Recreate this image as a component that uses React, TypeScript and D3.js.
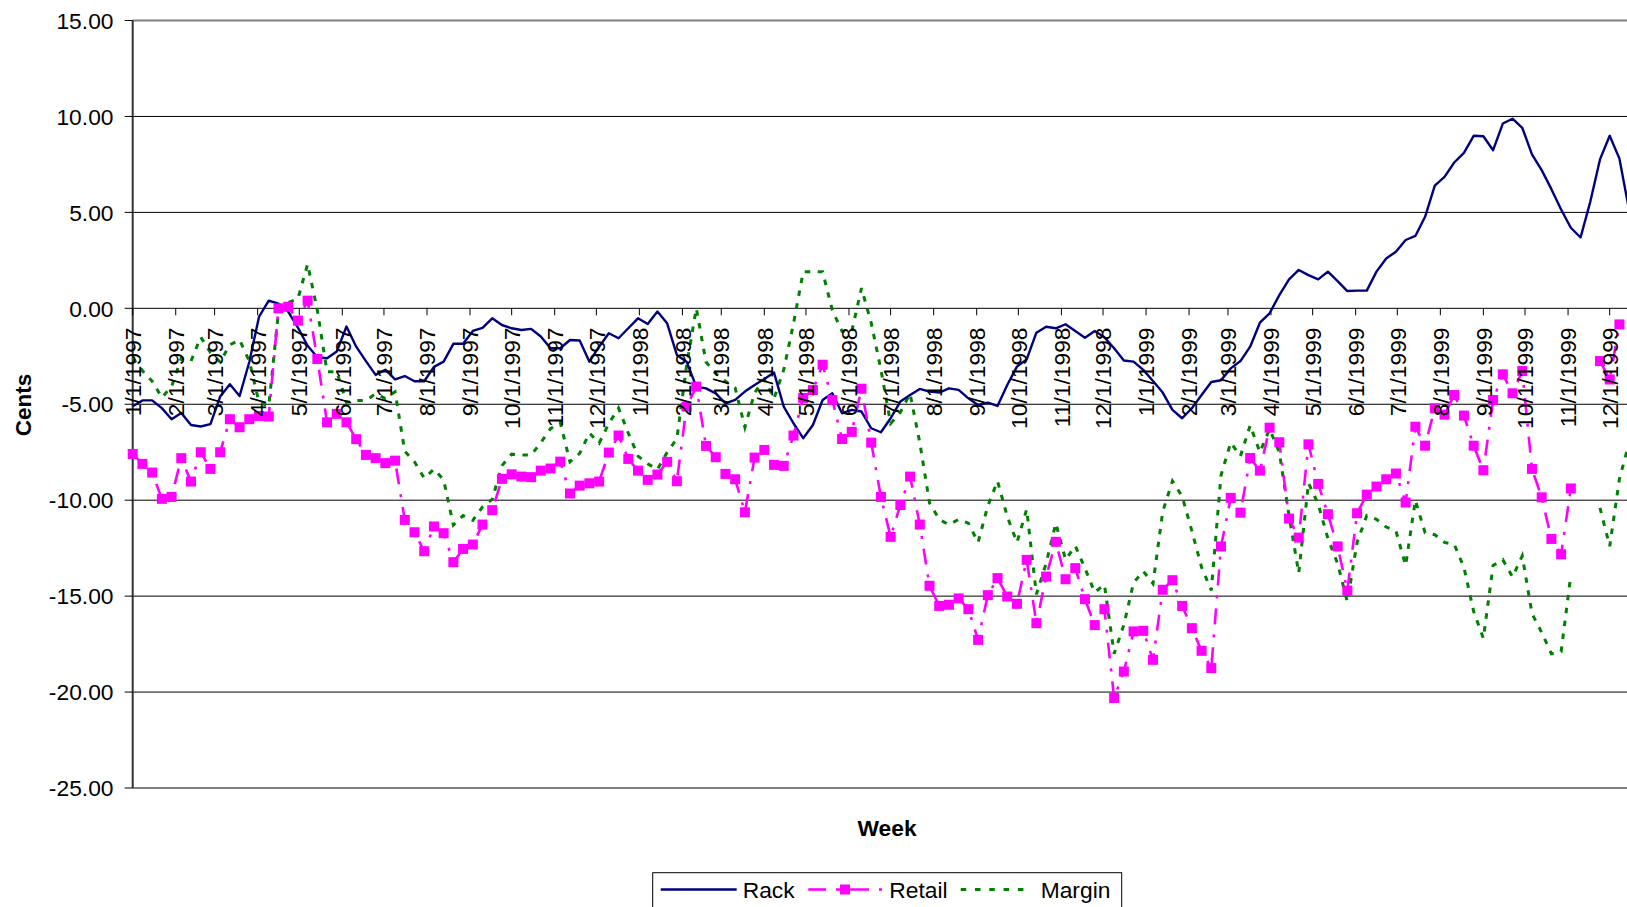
import React from 'react';
import * as d3 from 'd3';

const START = Date.UTC(1997, 0, 1);
const END_TICK = Date.UTC(1999, 11, 1);

const rack: (number | null)[] = [
  -5.1, -4.8, -4.8, -5.2, -5.78, -5.45, -6.08, -6.16, -6.04, -4.6,
  -3.96, -4.57, -2.8, -0.44, 0.4, 0.24, -0.17, -1.0, -1.95, -2.55,
  -2.6, -2.25, -0.95, -2.0, -2.75, -3.47, -3.2, -3.7, -3.53, -3.8,
  -3.8, -3.05, -2.78, -1.85, -1.85, -1.18, -1.02, -0.52, -0.87, -1.04,
  -1.13, -1.07, -1.47, -2.08, -2.08, -1.65, -1.68, -2.78, -2.0, -1.3,
  -1.56, -1.04, -0.52, -0.82, -0.17, -0.78, -2.43, -2.78, -4.08, -4.17,
  -4.43, -4.95, -4.77, -4.34, -4.0, -3.68, -3.35, -5.12, -5.99, -6.77,
  -6.08, -4.78, -4.43, -5.47, -5.29, -5.38, -6.25, -6.46, -5.73, -4.86,
  -4.52, -4.2, -4.34, -4.39, -4.17, -4.25, -4.69, -5.04, -4.92, -5.09,
  -4.0, -3.04, -2.66, -1.27, -0.96, -1.04, -0.83, -1.18, -1.53, -1.18,
  -1.51, -2.08, -2.72, -2.78, -3.21, -3.79, -4.39, -5.29, -5.73, -5.21,
  -4.52, -3.84, -3.75, -3.13, -2.75, -2.0, -0.75, -0.26, 0.69, 1.51,
  2.0, 1.73, 1.51, 1.91, 1.42, 0.9, 0.92, 0.92, 1.91, 2.6,
  2.95, 3.56, 3.77, 4.77, 6.39, 6.85, 7.6, 8.1, 8.99, 8.97,
  8.24, 9.63, 9.88, 9.41, 8.02, 7.2, 6.21, 5.15, 4.2, 3.69,
  5.55, 7.76, 8.99, 7.8, 5.1,
];

const retail: (number | null)[] = [
  -7.59, -8.11, -8.56, -9.93, -9.83, -7.81, -9.03, -7.5, -8.37, -7.5,
  -5.78, -6.2, -5.78, -5.61, -5.64, 0.0, 0.08, -0.64, 0.4, -2.64,
  -5.94, -5.5, -5.94, -6.82, -7.64, -7.81, -8.07, -7.94, -11.03, -11.67,
  -12.66, -11.37, -11.72, -13.23, -12.54, -12.31, -11.27, -10.52, -8.89, -8.65,
  -8.77, -8.8, -8.46, -8.35, -7.99, -9.65, -9.24, -9.12, -9.03, -7.52,
  -6.63, -7.85, -8.46, -8.94, -8.66, -8.0, -9.01, -5.12, -4.08, -7.17,
  -7.76, -8.63, -8.91, -10.63, -7.78, -7.38, -8.16, -8.21, -6.63, -4.67,
  -4.26, -2.94, -4.78, -6.81, -6.44, -4.19, -7.0, -9.83, -11.91, -10.25,
  -8.77, -11.27, -14.46, -15.51, -15.45, -15.12, -15.68, -17.28, -14.95, -14.06,
  -15.02, -15.4, -13.11, -16.41, -13.98, -12.17, -14.12, -13.54, -15.16, -16.51,
  -15.68, -20.31, -18.93, -16.84, -16.81, -18.32, -14.67, -14.17, -15.51, -16.67,
  -17.85, -18.75, -12.41, -9.88, -10.65, -7.8, -8.46, -6.22, -6.98, -10.96,
  -11.95, -7.09, -9.15, -10.73, -12.41, -14.71, -10.68, -9.71, -9.29, -8.91,
  -8.61, -10.12, -6.17, -7.16, -5.21, -5.54, -4.52, -5.59, -7.16, -8.44,
  -4.78, -3.44, -4.43, -3.27, -8.37, -9.85, -12.02, -12.82, -9.39, null,
  null, -2.75, -3.71, -0.84, null,
];

const margin: (number | null)[] = [
  -2.6, -3.25, -3.8, -4.65, -4.08, -2.6, -2.75, -1.5, -2.3, -2.8,
  -1.9, -1.65, -2.75, -4.9, -5.1, -0.2, 0.3, 0.5, 2.3, -0.1,
  -3.3, -3.3, -4.9, -4.8, -4.8, -4.45, -4.7, -4.35, -7.45, -8.0,
  -8.85, -8.38, -8.94, -11.3, -10.8, -11.05, -10.35, -9.95, -8.2, -7.6,
  -7.64, -7.65, -7.0, -6.27, -5.95, -8.0, -7.56, -6.5, -7.03, -6.0,
  -5.2, -6.5, -7.7, -8.1, -8.4, -7.5, -6.8, -3.0, 0.0, -2.8,
  -3.4, -3.8, -4.15, -6.2, -4.4, -3.7, -4.7, -3.2, -0.8, 1.9,
  1.9, 1.9, -0.1, -1.2, -1.2, 1.05, -0.76, -3.2, -6.0, -5.42,
  -4.45, -7.0, -10.14, -11.0, -11.28, -11.0, -11.2, -12.2, -10.3, -9.0,
  -10.85, -12.2, -10.48, -14.9, -13.3, -11.2, -13.1, -12.38, -13.55, -14.8,
  -14.4, -18.0, -16.5, -14.3, -13.7, -14.35, -10.6, -9.0, -9.8, -11.6,
  -13.5, -14.7, -8.7, -7.0, -7.7, -6.1, -7.5, -6.3, -7.5, -10.8,
  -13.8, -9.1, -10.2, -12.0, -13.3, -15.3, -12.2, -10.8, -11.0, -11.4,
  -11.6, -13.4, -10.0, -11.7, -11.8, -12.2, -12.3, -13.5, -15.8, -17.2,
  -13.4, -13.1, -14.0, -12.9, -15.9, -16.9, -18.0, -17.9, -13.9, null,
  null, -10.4, -12.4, -8.9, -7.0,
];

const yTicks = [15, 10, 5, 0, -5, -10, -15, -20, -25];
const seriesNames = ['Rack', 'Retail', 'Margin'];
const FONT = '"Liberation Sans", Arial, sans-serif';

export default function App() {
  const W = 1627;
  const H = 907;
  const dates = rack.map((_, i) => new Date(START + i * 7 * 86400000));
  const x = d3.scaleUtc().domain([new Date(START), new Date(END_TICK)]).range([132.7, 1609.7]);
  const y = d3.scaleLinear().domain([-25, 15]).range([788, 20.5]);
  const monthTicks = d3
    .utcMonth.range(new Date(START), new Date(Date.UTC(2000, 1, 1)))
    .filter((d) => x(d) < W - 10);
  const fmt = d3.utcFormat('%-m/%-d/%Y');

  const mkLine = (arr: (number | null)[]) =>
    d3
      .line<number | null>()
      .defined((d) => d != null)
      .x((_, i) => x(dates[i]))
      .y((d) => y(d as number))(arr) || '';

  const x0 = x(new Date(START));
  const y0 = y(0);
  const LY = 889.5;

  return (
    <svg
      width={W}
      height={H}
      style={{ position: 'absolute', left: 0, top: 0, display: 'block', background: '#fff' }}
      fontFamily={FONT}
    >
      <rect x={0} y={0} width={W} height={H} fill="#fff" />
      {/* gridlines */}
      {yTicks.map((t) => (
        <line
          key={'g' + t}
          x1={x0}
          x2={W}
          y1={y(t)}
          y2={y(t)}
          stroke={t === 15 ? '#808080' : '#000'}
          strokeWidth={t === 15 ? 2 : 1}
        />
      ))}
      {/* y axis */}
      <line x1={x0} x2={x0} y1={y(15)} y2={y(-25)} stroke="#333" strokeWidth={2} />
      {yTicks.map((t) => (
        <line key={'yt' + t} x1={x0 - 8} x2={x0} y1={y(t)} y2={y(t)} stroke="#000" strokeWidth={1} />
      ))}
      {yTicks.map((t) => (
        <text
          key={'yl' + t}
          x={113.5}
          y={y(t)}
          dy="0.36em"
          textAnchor="end"
          fontSize={22.8}
          fill="#000"
        >
          {t.toFixed(2)}
        </text>
      ))}
      {/* x axis ticks at zero */}
      {monthTicks.map((d) => (
        <line
          key={'xt' + d.getTime()}
          x1={x(d)}
          x2={x(d)}
          y1={y0}
          y2={y0 + 7}
          stroke="#000"
          strokeWidth={1}
        />
      ))}

      {/* series */}
      <path d={mkLine(margin)} fill="none" stroke="#008000" strokeWidth={3} strokeDasharray="5.5,7.5" />
      <path d={mkLine(rack)} fill="none" stroke="#000080" strokeWidth={2.4} strokeLinejoin="round" />
      <path
        d={mkLine(retail)}
        fill="none"
        stroke="#FF00FF"
        strokeWidth={2.6}
        strokeDasharray="16,10,3,10"
      />
      {retail.map((v, i) =>
        v == null ? null : (
          <rect key={'m' + i} x={x(dates[i]) - 5} y={y(v) - 5} width={10} height={10} fill="#FF00FF" />
        )
      )}

      {/* x tick labels */}
      {monthTicks.map((d) => (
        <text
          key={'xl' + d.getTime()}
          transform={`translate(${x(d)},${327.5}) rotate(-90)`}
          dy="0.36em"
          textAnchor="end"
          fontSize={22.8}
          fill="#000"
        >
          {fmt(d)}
        </text>
      ))}

      {/* axis titles */}
      <text
        transform={`translate(23,405) rotate(-90)`}
        dy="0.36em"
        textAnchor="middle"
        fontSize={22.5}
        fontWeight="bold"
        fill="#000"
      >
        Cents
      </text>
      <text x={887} y={836.3} textAnchor="middle" fontSize={22.8} fontWeight="bold" fill="#000">
        Week
      </text>

      {/* legend */}
      <rect x={652.7} y={872.7} width={469} height={60} fill="#fff" stroke="#000" strokeWidth={1} />
      <line x1={660.7} x2={736.7} y1={LY} y2={LY} stroke="#000080" strokeWidth={2.4} />
      <text x={742.7} y={898.3} fontSize={22.8} fill="#000">
        {seriesNames[0]}
      </text>
      <line x1={808.3} x2={826} y1={LY} y2={LY} stroke="#FF00FF" strokeWidth={2.6} />
      <line x1={836} x2={869} y1={LY} y2={LY} stroke="#FF00FF" strokeWidth={2.6} />
      <line x1={879} x2={882} y1={LY} y2={LY} stroke="#FF00FF" strokeWidth={2.6} />
      <rect x={845 - 5} y={LY - 5} width={10} height={10} fill="#FF00FF" />
      <text x={889.3} y={898.3} fontSize={22.8} fill="#000">
        {seriesNames[1]}
      </text>
      <line
        x1={960.7}
        x2={1026.7}
        y1={LY}
        y2={LY}
        stroke="#008000"
        strokeWidth={3}
        strokeDasharray="5.5,8.8"
      />
      <text x={1040.7} y={898.3} fontSize={22.8} fill="#000">
        {seriesNames[2]}
      </text>
    </svg>
  );
}
